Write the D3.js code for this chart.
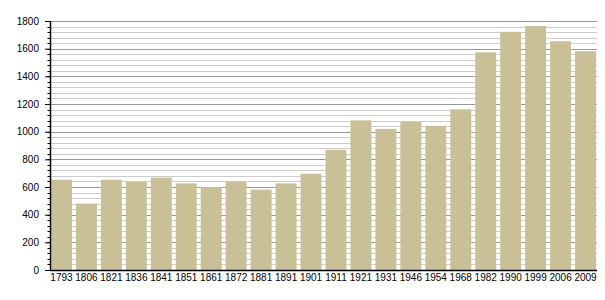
<!DOCTYPE html>
<html>
<head>
<meta charset="utf-8">
<script src="https://cdn.jsdelivr.net/npm/d3@7"></script>
<style>
  body { margin: 0; background: #fff; }
  text { font-family: "Liberation Sans", Arial, sans-serif; }
</style>
</head>
<body>
<div class="chart"></div>
<script>
// Population by census year

var years = ["1793", "1806", "1821", "1836", "1841", "1851", "1861", "1872", "1881", "1891", "1901",
             "1911", "1921", "1931", "1946", "1954", "1968", "1982", "1990", "1999", "2006", "2009"];
var population = [652, 480, 652, 636, 668, 626, 600, 638, 581, 626, 696,
                  869, 1082, 1020, 1071, 1042, 1162, 1574, 1722, 1764, 1654, 1582];
var yTicks = [0, 200, 400, 600, 800, 1000, 1200, 1400, 1600, 1800];

var svgwidth = 605;
var svgheight = 300;

var margin = { top: 21, right: 8, bottom: 30, left: 50 };
var width = svgwidth - margin.left - margin.right;
var height = svgheight - margin.top - margin.bottom;

var svg = d3.select(".chart")
    .append("svg")
    .attr("width", svgwidth)
    .attr("height", svgheight);

var chartGroup = svg.append("g")
    .attr("transform", `translate(${margin.left}, ${margin.top})`);

var xScale = d3.scaleBand()
    .domain(years)
    .range([0, width])
    .paddingInner(0.16)
    .paddingOuter(0.04);

var yScale = d3.scaleLinear()
    .domain([0, 1800])
    .range([height, 0]);

// minor grid every 40, major every 200
var minorTicks = d3.range(0, 1801, 40);

chartGroup.append("g")
    .selectAll("line")
    .data(minorTicks.filter(d => d % 200 !== 0))
    .enter()
    .append("line")
    .attr("x1", 0)
    .attr("x2", width)
    .attr("y1", d => Math.round(yScale(d)) + 0.5)
    .attr("y2", d => Math.round(yScale(d)) + 0.5)
    .attr("stroke", "#cccccc")
    .attr("stroke-width", 1);

chartGroup.append("g")
    .selectAll("line")
    .data(yTicks.filter(d => d > 0))
    .enter()
    .append("line")
    .attr("x1", 0)
    .attr("x2", width)
    .attr("y1", d => Math.round(yScale(d)) + 0.5)
    .attr("y2", d => Math.round(yScale(d)) + 0.5)
    .attr("stroke", "#999999")
    .attr("stroke-width", 1);

// bars
chartGroup.selectAll("rect")
    .data(population)
    .enter()
    .append("rect")
    .attr("x", (d, i) => xScale(years[i]))
    .attr("y", d => yScale(d))
    .attr("width", xScale.bandwidth())
    .attr("height", d => height - yScale(d))
    .attr("fill", "#cac097");

// y axis with major and minor ticks
var leftAxis = d3.axisLeft(yScale)
    .tickValues(yTicks)
    .tickFormat(d3.format("d"))
    .tickSize(5)
    .tickPadding(6);

var yAxisG = chartGroup.append("g")
    .call(leftAxis);

yAxisG.select(".domain").remove();
yAxisG.selectAll("text")
    .attr("font-size", "10px")
    .attr("fill", "#000");

chartGroup.append("g")
    .selectAll("line")
    .data(minorTicks)
    .enter()
    .append("line")
    .attr("x1", -2.5)
    .attr("x2", 0)
    .attr("y1", d => Math.round(yScale(d)) + 0.5)
    .attr("y2", d => Math.round(yScale(d)) + 0.5)
    .attr("stroke", "#000");

chartGroup.append("line")
    .attr("x1", 0.5)
    .attr("x2", 0.5)
    .attr("y1", 0)
    .attr("y2", height)
    .attr("stroke", "#000")
    .attr("stroke-width", 1.5);

// x axis
var bottomAxis = d3.axisBottom(xScale)
    .tickSize(0)
    .tickPadding(4);

var xAxisG = chartGroup.append("g")
    .attr("transform", `translate(0, ${height})`)
    .call(bottomAxis);

xAxisG.select(".domain").remove();
xAxisG.selectAll("text")
    .attr("font-size", "10px")
    .attr("fill", "#000");

chartGroup.append("line")
    .attr("x1", 0)
    .attr("x2", width)
    .attr("y1", height + 0.5)
    .attr("y2", height + 0.5)
    .attr("stroke", "#000")
    .attr("stroke-width", 1.5);
</script>
</body>
</html>
